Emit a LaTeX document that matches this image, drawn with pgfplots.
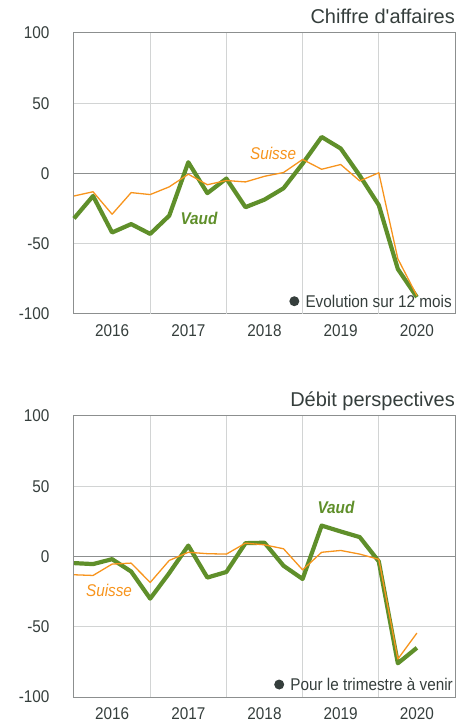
\documentclass[border=0pt]{standalone}
\usepackage{pgfplots}
\pgfplotsset{compat=1.18}
\usepackage{fontspec}
\setmainfont{Liberation Sans}[FakeStretch=0.9]
\newfontfamily\titlefont{Liberation Sans}
\definecolor{vaud}{HTML}{5F8F2A}
\definecolor{suisse}{HTML}{F7941D}
\definecolor{txt}{HTML}{353E3C}
\definecolor{gridc}{HTML}{D2D4D4}
\definecolor{zeroc}{HTML}{8C8F8F}
\definecolor{framec}{HTML}{8C8F8F}
\pgfplotstableread{
k vaud suisse
0 -32 -16
1 -16 -13
2 -42 -29
3 -36 -13.6
4 -43 -15
5 -30 -9.5
6 8 -0.5
7 -14 -8
8 -3.6 -5
9 -24 -6
10 -18.6 -2
11 -10.5 0.7
12 7 10
13 26 3
14 17.8 6.4
15 -1.5 -5.3
16 -22.5 0.5
17 -68 -60.7
18 -88 -87
}\tableca
\pgfplotstableread{
k vaud suisse
0 -4.7 -13
1 -5.4 -13.5
2 -1.9 -5.4
3 -10.7 -4.7
4 -30 -18.5
5 -11.8 -2.8
6 7.8 3
7 -15 2
8 -11 1.7
9 9.5 9.5
10 9.8 8.3
11 -6.6 5.5
12 -16 -9.5
13 22 3
14 17.8 4.3
15 13.8 1.7
16 -3.5 -2
17 -76 -73
18 -65 -54.5
}\tabledp
\pgfplotsset{
  panel/.style={
    anchor=south west,
    width=381pt, height=281pt, scale only axis,
    xmin=0, xmax=20, ymin=-100, ymax=100,
    xtick={2,6,10,14,18},
    xticklabels={2016,2017,2018,2019,2020},
    extra x ticks={4,8,12,16},
    extra x tick labels={},
    extra x tick style={grid=major, major grid style={gridc, line width=1.3pt}},
    ytick={-100,-50,0,50,100},
    ymajorgrids,
    major grid style={gridc, line width=1pt},
    extra y ticks={0},
    extra y tick labels={},
    extra y tick style={grid=major, major grid style={zeroc, line width=1.3pt}},
    major tick length=0pt,
    axis line style={framec, line width=1pt},
    tick label style={font=\fontsize{17}{20}\selectfont, text=txt},
    yticklabel style={xshift=-21pt},
    xticklabel style={yshift=-7pt},
    /pgf/number format/assume math mode=true,
    clip=false,
  }
}
\begin{document}
\begin{tikzpicture}
\path[use as bounding box] (0pt,0pt) rectangle (473pt,724pt);
\begin{axis}[panel, at={(74pt,410pt)}]
  \addplot[vaud, line width=4.2pt, line join=round] table[x=k, y=vaud] {\tableca};
  \addplot[suisse, line width=1.3pt, line join=round] table[x=k, y=suisse] {\tableca};
  \node[anchor=base east, inner sep=0pt, text=txt, font=\titlefont\fontsize{20}{24}\selectfont] at (rel axis cs:1,1) [yshift=9pt] {Chiffre d'affaires};
  \node[anchor=base east, inner sep=0pt, text=txt, font=\fontsize{17}{20}\selectfont] (n1) at (rel axis cs:1,0) [xshift=-3pt, yshift=6.7pt] {Evolution sur 12 mois};
  \fill[txt] ([xshift=-11pt]n1.west) circle (5pt);
  \node[text=vaud, font=\fontsize{17}{20}\selectfont\bfseries\itshape] at (axis cs:6.56,-32) {Vaud};
  \node[text=suisse, font=\fontsize{17}{20}\selectfont\itshape] at (axis cs:10.45,14.5) {Suisse};
\end{axis}
\begin{axis}[panel, at={(74pt,27pt)}]
  \addplot[vaud, line width=4.2pt, line join=round] table[x=k, y=vaud] {\tabledp};
  \addplot[suisse, line width=1.3pt, line join=round] table[x=k, y=suisse] {\tabledp};
  \node[anchor=base east, inner sep=0pt, text=txt, font=\titlefont\fontsize{20}{24}\selectfont] at (rel axis cs:1,1) [yshift=9pt] {Débit perspectives};
  \node[anchor=base east, inner sep=0pt, text=txt, font=\fontsize{17}{20}\selectfont] (n2) at (rel axis cs:1,0) [xshift=-2pt, yshift=6.3pt] {Pour le trimestre à venir};
  \fill[txt] ([xshift=-11pt]n2.west) circle (5pt);
  \node[text=vaud, font=\fontsize{17}{20}\selectfont\bfseries\itshape] at (axis cs:13.75,34.7) {Vaud};
  \node[text=suisse, font=\fontsize{17}{20}\selectfont\itshape] at (axis cs:1.84,-24.4) {Suisse};
\end{axis}
\end{tikzpicture}
\end{document}
